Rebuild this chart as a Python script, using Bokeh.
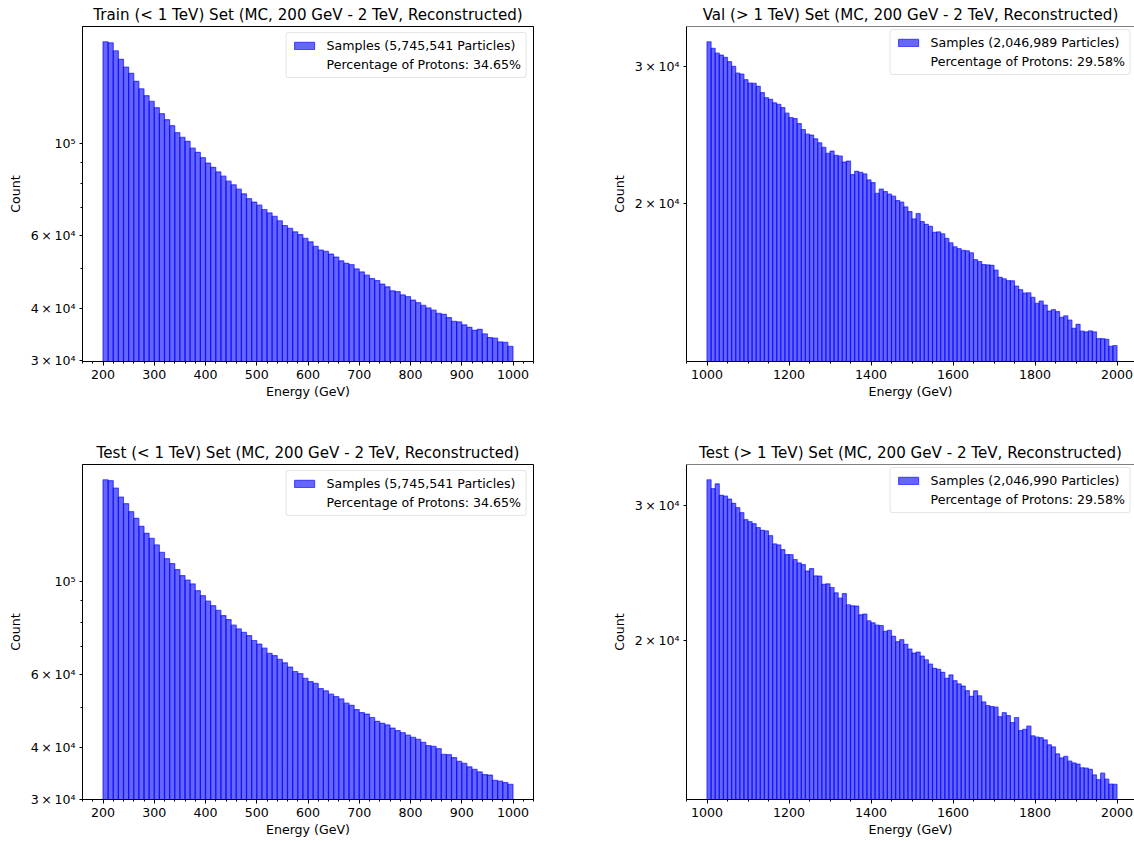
import numpy as np
from bokeh.plotting import figure
from bokeh.layouts import column, row
from bokeh.models import (FixedTicker, SingleIntervalTicker, CustomJSTickFormatter,
                          Legend, LegendItem, Range1d, Span, ColumnDataSource)
from bokeh.embed import file_html
from bokeh.resources import INLINE

# ---------------- data ----------------
TITLES = [
    "Train (< 1 TeV) Set (MC, 200 GeV - 2 TeV, Reconstructed)",
    "Val (> 1 TeV) Set (MC, 200 GeV - 2 TeV, Reconstructed)",
    "Test (< 1 TeV) Set (MC, 200 GeV - 2 TeV, Reconstructed)",
    "Test (> 1 TeV) Set (MC, 200 GeV - 2 TeV, Reconstructed)",
]
LEGEND_SAMPLES = [
    "Samples (5,745,541 Particles)",
    "Samples (2,046,989 Particles)",
    "Samples (5,745,541 Particles)",
    "Samples (2,046,990 Particles)",
]
LEGEND_PROTONS = [
    "Percentage of Protons: 34.65%",
    "Percentage of Protons: 29.58%",
    "Percentage of Protons: 34.65%",
    "Percentage of Protons: 29.58%",
]
X_LABEL = "Energy (GeV)"
Y_LABEL = "Count"

LOW_RANGE = (200, 1000)    # GeV, 80 bins of 10 GeV
HIGH_RANGE = (1000, 2000)  # GeV, 100 bins of 10 GeV

TRAIN_LOW = [176000, 175000, 167400, 159600, 153000, 147700, 141300, 135600, 130500, 126500,
             122100, 118100, 114200, 110500, 106300, 103600, 101300, 97500, 95300, 92500,
             89800, 87700, 85500, 83500, 81200, 79600, 77700, 75700, 73700, 72300,
             71100, 69400, 68100, 66800, 65200, 63500, 62500, 61300, 60400, 59100,
             58000, 56600, 55400, 55000, 54200, 53300, 52200, 51500, 51100, 49900,
             49100, 48200, 47300, 46800, 45900, 45200, 44200, 44000, 43200, 42800,
             42000, 41400, 40800, 40200, 39700, 39000, 38800, 38100, 37300, 37200,
             36600, 36100, 35500, 35700, 34800, 34100, 34000, 33300, 33200, 32500]

TEST_LOW = [176200, 175300, 168300, 160100, 154300, 147600, 142300, 136100, 130900, 127400,
            122800, 117900, 113800, 110700, 107100, 103600, 101100, 98900, 95300, 92700,
            89900, 87700, 85500, 83000, 81200, 78700, 77100, 75600, 74300, 72300,
            70900, 69300, 67300, 66500, 65100, 63900, 62400, 60900, 60200, 58600,
            57600, 57000, 55400, 54700, 53700, 53000, 52300, 51100, 50500, 49300,
            48500, 48100, 47200, 46200, 45700, 45300, 44500, 43900, 43400, 42800,
            42300, 41800, 41100, 40400, 40200, 39700, 38500, 38400, 37800, 37000,
            36600, 35900, 35400, 34900, 34400, 34300, 33300, 33200, 32900, 32600]

VAL_HIGH = [32300, 31670, 31240, 31050, 30840, 30450, 30030, 29450, 29360, 28870,
            28590, 28570, 28310, 27790, 27380, 27250, 26960, 26850, 26590, 26150,
            25820, 25740, 25360, 24920, 24580, 24510, 24240, 23960, 23630, 23220,
            23380, 23080, 23040, 22630, 22700, 21810, 22020, 21960, 21850, 21470,
            21300, 20640, 20900, 20740, 20580, 20460, 20200, 20100, 19820, 19550,
            19130, 19440, 18980, 18830, 18710, 18380, 18410, 18310, 18060, 17830,
            17620, 17520, 17430, 17410, 17310, 16960, 16870, 16720, 16700, 16680,
            16450, 16100, 16030, 15940, 15930, 15690, 15520, 15370, 15380, 15170,
            14910, 15010, 14830, 14570, 14630, 14550, 14300, 14370, 14190, 13840,
            14010, 13730, 13700, 13740, 13700, 13430, 13430, 13400, 13130, 13160]

TEST_HIGH = [32390, 31530, 32000, 30910, 30850, 30570, 30180, 29790, 29350, 28740,
             28570, 28400, 28070, 27840, 27790, 27400, 26730, 26650, 26280, 25890,
             25880, 25510, 25250, 25130, 24640, 24830, 24290, 24280, 23690, 23720,
             23460, 23090, 22720, 23040, 22280, 22210, 22190, 21620, 21670, 21240,
             21110, 20960, 20940, 20570, 20630, 20270, 19950, 20070, 19790, 19510,
             19280, 19340, 19110, 18900, 18660, 18420, 18360, 18200, 17880, 18060,
             17750, 17580, 17470, 17230, 16940, 17220, 16970, 16660, 16480, 16430,
             16400, 15940, 16130, 15990, 15660, 15900, 15290, 15350, 15500, 15050,
             14990, 14970, 14870, 14650, 14560, 14260, 14090, 14150, 13950, 13880,
             13830, 13680, 13670, 13610, 13390, 13200, 13460, 13220, 13030, 13020]

# tick positions (labels generated as matplotlib-style sci notation)
Y_TICKS_LOW = [30000, 40000, 60000, 100000]
Y_MINOR_LOW = [50000, 70000, 80000, 90000]
Y_TICKS_HIGH = [20000, 30000]
Y_MINOR_HIGH = []
X_MAJOR_LOW, X_MINOR_N_LOW = 100, 5
X_MAJOR_HIGH, X_MINOR_N_HIGH = 200, 4

# ---------------- style ----------------
FONT = "DejaVu Sans"
TICK_FS = "12.6px"
TITLE_FS = "15.1px"
FILL = "blue"
ALPHA = 0.6

SCI_FMT = CustomJSTickFormatter(code=r"""
const e = Math.floor(Math.log10(tick) + 1e-9);
const m = Math.round(tick / Math.pow(10, e));
const sup = ['\u2070','\u00b9','\u00b2','\u00b3','\u2074','\u2075','\u2076','\u2077','\u2078','\u2079'];
const es = String(e).split('').map(c => sup[+c]).join('');
return (m === 1) ? ('10' + es) : (m + '\u2009\u00d7\u200910' + es);
""")


def panel(title, counts, xr, major, nminor, yt, ym, labels,
          frame_w, left_b, right_b, bottom_b, visible_frac, open_right):
    c = np.asarray(counts, dtype=float)
    n = len(c)
    edges = np.linspace(xr[0], xr[1], n + 1)
    span = xr[1] - xr[0]
    x0 = xr[0] - 0.05 * span
    x1 = x0 + 1.1 * span * visible_frac
    lmin, lmax = np.log10(c.min()), np.log10(c.max())
    r = lmax - lmin
    y0 = 10 ** (lmin - 0.05 * r)
    y1 = 10 ** (lmax + 0.05 * r)

    p = figure(frame_width=frame_w, frame_height=335,
               x_range=Range1d(x0, x1), y_range=Range1d(y0, y1),
               y_axis_type="log", output_backend="svg", toolbar_location=None,
               min_border_left=left_b, min_border_right=right_b,
               min_border_top=26, min_border_bottom=bottom_b, title=title)
    p.background_fill_color = "white"
    p.border_fill_color = "white"
    p.xgrid.visible = False
    p.ygrid.visible = False

    src = ColumnDataSource(dict(left=edges[:-1], right=edges[1:], top=c,
                                bottom=np.full(n, y0 * 0.5)))
    bars = p.quad(left="left", right="right", top="top", bottom="bottom", source=src,
                  fill_color=FILL, fill_alpha=ALPHA, line_color=FILL, line_alpha=ALPHA,
                  line_width=1.2)
    dummy = p.quad(left=[], right=[], top=[], bottom=[], fill_alpha=0, line_alpha=0)

    leg = Legend(items=[LegendItem(label=labels[0], renderers=[bars]),
                        LegendItem(label=labels[1], renderers=[dummy])],
                 location="top_right")
    leg.label_text_font = FONT
    leg.label_text_font_size = TICK_FS
    leg.label_text_color = "black"
    leg.glyph_width = 25
    leg.glyph_height = 9
    leg.label_standoff = 10
    leg.label_height = 14
    leg.padding = 5
    leg.spacing = 4
    leg.margin = 3 if open_right else 6
    leg.border_line_color = "#cccccc"
    leg.border_line_width = 1
    leg.background_fill_alpha = 0.8
    if "border_radius" in Legend.properties():
        leg.border_radius = 3
    p.add_layout(leg)

    p.title.align = "center"
    p.title.text_font = FONT
    p.title.text_font_size = TITLE_FS
    p.title.text_font_style = "normal"
    p.title.text_color = "black"
    p.title.standoff = 6

    xa = p.xaxis[0]
    xa.ticker = SingleIntervalTicker(interval=major, num_minor_ticks=nminor)
    ya = p.yaxis[0]
    ya.ticker = FixedTicker(ticks=yt, minor_ticks=ym)
    ya.formatter = SCI_FMT
    for ax in (xa, ya):
        ax.axis_line_color = "black"
        ax.axis_line_width = 1
        ax.major_tick_line_color = "black"
        ax.minor_tick_line_color = "black"
        ax.major_tick_in = 0
        ax.minor_tick_in = 0
        ax.minor_tick_out = 2
        ax.major_label_text_font = FONT
        ax.major_label_text_font_size = TICK_FS
        ax.major_label_text_color = "black"
        ax.axis_label_text_font = FONT
        ax.axis_label_text_font_size = TICK_FS
        ax.axis_label_text_font_style = "normal"
        ax.axis_label_text_color = "black"
    xa.major_tick_out = 4
    xa.major_label_standoff = 4
    xa.axis_label = X_LABEL
    xa.axis_label_standoff = 2
    ya.major_tick_out = 3
    ya.major_label_standoff = 4
    ya.axis_label = Y_LABEL
    ya.axis_label_standoff = 5

    if open_right:
        p.outline_line_color = None
        p.add_layout(Span(location=y1, dimension="width", line_color="black", line_width=1))
    else:
        p.outline_line_color = "black"
        p.outline_line_alpha = 1
        p.outline_line_width = 1
    return p


p1 = panel(TITLES[0], TRAIN_LOW, LOW_RANGE, X_MAJOR_LOW, X_MINOR_N_LOW, Y_TICKS_LOW, Y_MINOR_LOW,
           (LEGEND_SAMPLES[0], LEGEND_PROTONS[0]), 451, 82, 67, 77, 1.0, False)
p2 = panel(TITLES[1], VAL_HIGH, HIGH_RANGE, X_MAJOR_HIGH, X_MINOR_N_HIGH, Y_TICKS_HIGH, Y_MINOR_HIGH,
           (LEGEND_SAMPLES[1], LEGEND_PROTONS[1]), 448, 86, 0, 77, 448 / 451, True)
p3 = panel(TITLES[2], TEST_LOW, LOW_RANGE, X_MAJOR_LOW, X_MINOR_N_LOW, Y_TICKS_LOW, Y_MINOR_LOW,
           (LEGEND_SAMPLES[2], LEGEND_PROTONS[2]), 451, 82, 67, 42, 1.0, False)
p4 = panel(TITLES[3], TEST_HIGH, HIGH_RANGE, X_MAJOR_HIGH, X_MINOR_N_HIGH, Y_TICKS_HIGH, Y_MINOR_HIGH,
           (LEGEND_SAMPLES[3], LEGEND_PROTONS[3]), 448, 86, 0, 42, 448 / 451, True)

layout = column(row(p1, p2), row(p3, p4))
open("out.html", "w", encoding="utf-8").write(file_html(layout, INLINE))
